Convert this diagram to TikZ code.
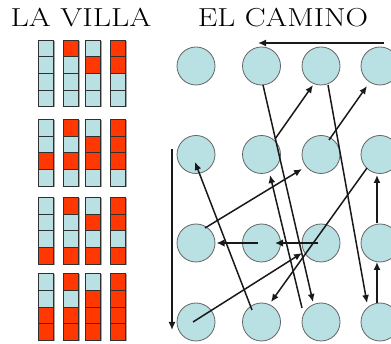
\documentclass[tikz,border=0pt]{standalone}
\usetikzlibrary{calc,arrows.meta}
\usepackage{graphicx}
\definecolor{cblue}{RGB}{185,224,227}
\definecolor{cred}{RGB}{255,55,0}
\definecolor{cedge}{RGB}{100,100,100}
\definecolor{ink}{RGB}{25,25,25}
\begin{document}
\begin{tikzpicture}[x=1pt,y=-1pt,
  title/.style={font=\fontsize{26}{30}\selectfont,anchor=base,inner sep=0pt},
  spot/.style={circle,draw=cedge,line width=0.8pt,fill=cblue,minimum size=38pt,inner sep=0pt},
  cellb/.style={draw=ink!90,line width=0.9pt,fill=cblue},
  cellr/.style={draw=ink!90,line width=0.9pt,fill=cred},
  shade/.style={fill=black!35},
  arr/.style={draw=ink,line width=1.5pt,-{Latex[length=8pt,width=7pt]}},
  harr/.style={draw=ink,line width=2.2pt,-{Latex[length=8pt,width=7.5pt]}}]
\useasboundingbox (0,0) rectangle (391,344);
% titles
\node[title] (t1) at (81,26.7) {\scalebox{1.22}[1]{LA VILLA}};
\node[title] (t2) at (283,26.7) {\scalebox{1.2}[1]{EL CAMINO}};
% left blocks: binary counting, top cell = bit 0
\foreach \g/\top in {0/40,1/119.3,2/197.3,3/273.7}{
  \foreach \c/\xl in {0/38.3,1/63.3,2/85.7,3/110.7}{
    \pgfmathtruncatemacro{\n}{4*\g+\c}
    \foreach \b in {0,1,2,3}{
      \pgfmathtruncatemacro{\bit}{mod(floor(\n/(2^\b)),2)}
      \pgfmathsetmacro{\yt}{\top+\b*16.67}
      \fill[shade] (\xl+1.3,\yt+0.8) rectangle (\xl+16.3,\yt+16.67+0.8);
      \ifnum\bit=1
        \draw[cellr] (\xl,\yt) rectangle (\xl+15,\yt+16.67);
      \else
        \draw[cellb] (\xl,\yt) rectangle (\xl+15,\yt+16.67);
      \fi
    }
  }
}
% circles
\foreach \i/\x in {1/196,2/261.5,3/321,4/380}{
  \foreach \j/\y in {1/66,2/154.5,3/243,4/322}{
    \node[spot] (c\i\j) at (\x,\y) {};
  }
}
% connectors
\coordinate (topstart) at ($(c41)+(4,-23)$);
\draw[arr] (topstart) -- ($(c21)+(-3.5,-23)$);
\draw[arr] ($(c21)+(1.5,19)$) -- ($(c34)+(-8,-20)$);
\draw[arr] ($(c34)+(-19,-14)$) -- ($(c22)+(8.5,20.5)$);
\draw[arr] ($(c22)+(13.5,-15.5)$) -- ($(c31)+(-8,19)$);
\draw[arr] ($(c31)+(7,19)$) -- ($(c44)+(-13,-19)$);
\draw[arr] ($(c44)+(-3,-19)$) -- ($(c43)+(-3,19)$);
\draw[arr] ($(c43)+(-3,-20)$) -- ($(c42)+(-3,20.5)$);
\draw[arr] ($(c42)+(-13,13.5)$) -- ($(c24)+(9.5,-20)$);
\draw[arr] ($(c24)+(-9.5,-12)$) -- ($(c12)+(-1,7.5)$);
\draw[arr] ($(c12)+(-24,-5.5)$) -- ($(c14)+(-24,8)$);
\draw[arr] ($(c14)+(-3,0)$) -- ($(c33)+(-19,10)$);
\draw[harr] ($(c33)+(-3,0)$) -- ($(c23)+(13.5,0)$);
\draw[harr] ($(c23)+(-3.5,0)$) -- ($(c13)+(20.5,0)$);
\draw[arr] ($(c13)+(9,-15)$) -- ($(c32)+(-19,14.5)$);
\draw[arr] ($(c32)+(8,-14.5)$) -- ($(c41)+(-13,20)$);
\end{tikzpicture}
\end{document}
